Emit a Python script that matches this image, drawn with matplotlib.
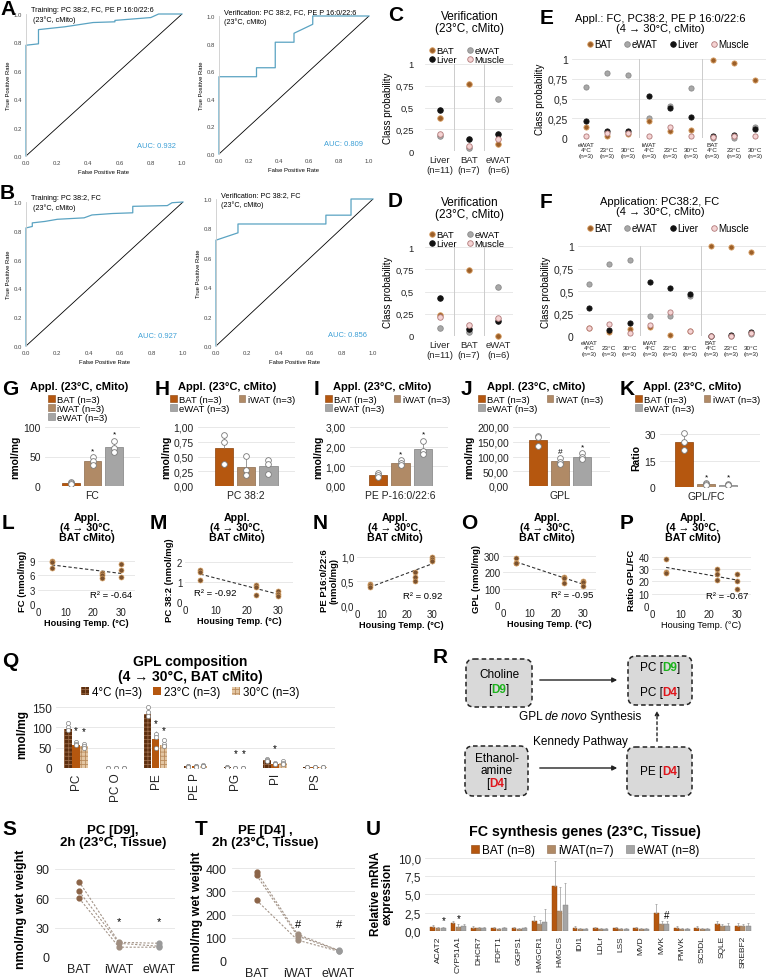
import numpy as np
import matplotlib
matplotlib.use("Agg")
from matplotlib import pyplot as plt
from matplotlib.patches import Patch, FancyBboxPatch
from matplotlib.lines import Line2D

plt.rcParams['font.family'] = ['Liberation Sans', 'DejaVu Sans']
plt.rcParams['hatch.linewidth'] = 0.6

# ---------------- data ----------------
# A / B: ROC curves
roc_ticklabels = ['0.0', '0.2', '0.4', '0.6', '0.8', '1.0']
roc_a_train_fpr = [0, 0, 0.08, 0.08, 0.25, 0.43, 0.57, 0.57, 0.80, 0.85, 1.0]
roc_a_train_tpr = [0, 0.78, 0.79, 0.89, 0.91, 0.94, 0.945, 0.955, 0.975, 1.0, 1.0]
roc_a_ver_fpr = [0, 0, 0.25, 0.25, 0.375, 0.375, 0.5, 0.5, 0.625, 0.625, 1.0]
roc_a_ver_tpr = [0, 0.56, 0.56, 0.625, 0.625, 0.81, 0.81, 0.875, 0.94, 1.0, 1.0]
roc_b_train_fpr = [0, 0, 0.04, 0.04, 0.12, 0.2, 0.37, 0.42, 0.55, 0.68, 0.68, 0.9, 0.93, 1.0]
roc_b_train_tpr = [0, 0.82, 0.83, 0.855, 0.865, 0.88, 0.89, 0.91, 0.92, 0.925, 0.97, 0.975, 0.995, 1.0]
roc_b_ver_fpr = [0, 0, 0.14, 0.14, 0.7, 0.7, 0.86, 0.86, 1.0]
roc_b_ver_tpr = [0, 0.72, 0.77, 0.83, 0.83, 0.89, 0.89, 1.0, 1.0]

# C / D: verification class probabilities
verif_labels = ['Liver\n(n=11)', 'BAT\n(n=7)', 'eWAT\n(n=6)']
c_bat = [0.38, 0.77, 0.08]
c_ewat = [0.17, 0.04, 0.60]
c_liver = [0.47, 0.14, 0.20]
c_muscle = [0.20, 0.06, 0.14]
d_bat = [0.24, 0.74, 0.0]
d_ewat = [0.09, 0.04, 0.55]
d_liver = [0.43, 0.08, 0.17]
d_muscle = [0.21, 0.12, 0.20]
prob_ticks = [0, 0.25, 0.5, 0.75, 1]
prob_ticklabels = ['0', '0,25', '0,5', '0,75', '1']

# E / F: application class probabilities
appl_labels = ['eWAT\n4°C\n(n=3)', '\n23°C\n(n=3)', '\n30°C\n(n=3)',
               'iWAT\n4°C\n(n=3)', '\n23°C\n(n=3)', '\n30°C\n(n=3)',
               'BAT\n4°C\n(n=3)', '\n23°C\n(n=3)', '\n30°C\n(n=3)']
e_bat = [0.135, 0.03, 0.05, 0.22, 0.093, 0.105, 0.99, 0.95, 0.73]
e_ewat = [0.64, 0.82, 0.80, 0.25, 0.41, 0.63, 0.0, 0.0, 0.135]
e_liver = [0.22, 0.085, 0.085, 0.53, 0.375, 0.266, 0.02, 0.04, 0.12]
e_muscle = [0.02, 0.063, 0.063, 0.02, 0.135, 0.02, 0.01, 0.02, 0.03]
f_bat = [0.09, 0.045, 0.08, 0.10, 0.01, 0.055, 1.00, 0.99, 0.93]
f_ewat = [0.58, 0.80, 0.84, 0.22, 0.22, 0.45, 0.0, 0.0, 0.02]
f_liver = [0.31, 0.07, 0.145, 0.60, 0.53, 0.47, 0.0, 0.01, 0.045]
f_muscle = [0.09, 0.13, 0.035, 0.12, 0.265, 0.055, 0.0, 0.0, 0.03]

# G - K: bar charts (BAT, iWAT, eWAT)
bar_labels = ['BAT (n=3)', 'iWAT (n=3)', 'eWAT (n=3)']
g_means = [5, 42, 66]
g_pts = [[7, 5, 4], [49, 42, 36], [77, 65, 58]]
h_means = [0.65, 0.32, 0.34]
h_pts = [[0.86, 0.74, 0.37], [0.51, 0.27, 0.18], [0.44, 0.37, 0.21]]
i_means = [0.55, 1.18, 1.88]
i_pts = [[0.65, 0.55, 0.48], [1.32, 1.15, 1.05], [2.30, 1.80, 1.62]]
j_means = [157, 84, 100]
j_pts = [[170, 166, 134], [95, 82, 76], [111, 98, 92]]
k_means = [25.6, 1.8, 1.4]
k_pts = [[30.5, 25.5, 21.0], [2.2, 1.8, 1.4], [1.8, 1.3, 1.0]]

# L - P: housing temperature scatter
housing_temp = [5, 5, 5, 23, 23, 23, 30, 30, 30]
l_fc = [9.0, 8.7, 7.5, 6.4, 6.0, 5.4, 8.3, 7.1, 5.7]
m_pc = [1.6, 1.5, 1.1, 0.85, 0.75, 0.35, 0.55, 0.4, 0.3]
n_pe = [0.45, 0.42, 0.38, 0.70, 0.60, 0.50, 0.99, 0.95, 0.92]
o_gpl = [290, 255, 255, 170, 165, 135, 150, 140, 115]
p_ratio = [38, 28, 27, 30, 26, 21, 26, 20, 14]
r2_labels = ['R² = -0.64', 'R² = -0.92', 'R² = 0.92', 'R² = -0.95', 'R² = -0.67']

# Q: GPL composition
q_classes = ['PC', 'PC O', 'PE', 'PE P', 'PG', 'PI', 'PS']
q_4c = [97, 1, 134, 4, 1.5, 19, 2]
q_23c = [57, 1, 72, 4, 1, 10, 2]
q_30c = [54, 1, 56, 6, 1, 12, 2]
q_pts_4c = [[110, 101, 94], [1, 1, 1], [150, 137, 128], [5, 4, 3], [2, 1.5, 1], [22, 19, 17], [3, 2, 2]]
q_pts_23c = [[64, 58, 56], [1, 1, 1], [85, 77, 50], [5, 4, 3], [1, 1, 1], [12, 10, 9], [3, 2, 2]]
q_pts_30c = [[60, 55, 50], [1, 1, 1], [68, 58, 55], [8, 6, 5], [1, 1, 1], [17, 12, 10], [3, 2, 2]]

# S / T: label incorporation, one line per mouse
tissues = ['BAT', 'iWAT', 'eWAT']
s_bat = [77, 67, 60]
s_iwat = [15, 14, 10]
s_ewat = [14, 11, 10]
t_bat = [385, 370, 262]
t_iwat = [115, 108, 90]
t_ewat = [46, 45, 42]

# U: FC synthesis genes
genes = ['ACAT2', 'CYP51A1', 'DHCR7', 'FDFT1', 'GGPS1', 'HMGCR1', 'HMGCS', 'IDI1',
         'LDLr', 'LSS', 'MVD', 'MVK', 'PMVK', 'SC5DL', 'SQLE', 'SREBF2']
u_bat = [0.6, 1.05, 0.45, 0.4, 0.4, 1.35, 6.2, 0.45, 0.4, 0.4, 0.4, 2.4, 0.45, 0.45, 0.9, 0.75]
u_iwat = [0.4, 0.6, 0.35, 0.3, 0.3, 1.0, 2.75, 0.3, 0.3, 0.3, 0.3, 0.95, 0.3, 0.3, 0.7, 0.7]
u_ewat = [0.4, 0.7, 0.35, 0.35, 0.35, 1.2, 3.6, 0.3, 0.3, 0.3, 0.3, 0.95, 0.3, 0.3, 0.75, 0.75]
u_err_bat = [0.2, 0.3, 0.2, 0.2, 0.2, 0.7, 3.3, 0.2, 0.2, 0.2, 0.2, 1.3, 0.2, 0.2, 0.4, 0.3]
u_err_iwat = [0.2, 0.3, 0.15, 0.15, 0.15, 0.5, 3.3, 0.15, 0.15, 0.15, 0.15, 0.4, 0.15, 0.15, 0.3, 0.3]
u_err_ewat = [0.2, 0.3, 0.15, 0.15, 0.15, 1.8, 3.0, 0.15, 0.15, 0.15, 0.15, 0.4, 0.15, 0.15, 0.3, 0.3]

# ---------------- styles ----------------
ROC_BLUE = '#5aa3c2'
AUC_BLUE = '#3c9fd6'
CLASS_STYLE = {'BAT': ('#9c5f28', '#d9a066'), 'eWAT': ('#a8a8a8', '#8a8a8a'),
               'Liver': ('#111111', '#111111'), 'Muscle': ('#f5d3d3', '#b07878')}
BAR_COLORS = ['#b5570f', '#b08a66', '#a5a5a5']
BAR_EDGES = ['#8a4008', '#8c6a4c', '#808080']
GRID = '#e4e4e4'
PT_BROWN = '#7a5230'
GREEN = '#1db31d'
RED = '#e0151b'

W, H = 766, 979
fig = plt.figure(figsize=(W / 100, H / 100), dpi=100)


def px_axes(x0, y0, x1, y1):
    return fig.add_axes([x0 / W, 1 - y1 / H, (x1 - x0) / W, (y1 - y0) / H])


def ftext(x, y, s, **kw):
    return fig.text(x / W, 1 - y / H, s, **kw)


def letter(x, y, s):
    ftext(x, y, s, fontsize=15, fontweight='bold', va='top', ha='left')


def clean(ax):
    for sp in ax.spines.values():
        sp.set_visible(False)
    ax.tick_params(length=0, colors='#222222')


# ---------------- A / B ----------------
def roc_panel(box, fpr, tpr, title, auc):
    ax = px_axes(*box)
    ax.plot([0, 1], [0, 1], color='black', lw=0.6)
    ax.plot(fpr, tpr, color=ROC_BLUE, lw=0.9, clip_on=False)
    ax.set_xlim(0, 1)
    ax.set_ylim(0, 1)
    ticks = [0, 0.2, 0.4, 0.6, 0.8, 1.0]
    ax.set_xticks(ticks)
    ax.set_yticks(ticks)
    ax.set_xticklabels(roc_ticklabels)
    ax.set_yticklabels(roc_ticklabels)
    clean(ax)
    ax.tick_params(labelsize=4.3, pad=3, colors='#444444')
    ax.spines['left'].set_visible(True)
    ax.spines['left'].set_color('#cccccc')
    ax.spines['left'].set_linewidth(0.6)
    ax.set_xlabel('False Positive Rate', fontsize=4.2, labelpad=3)
    ax.set_ylabel('True Positive Rate', fontsize=4.2, labelpad=2)
    ax.text(0.03, 1.055, title, transform=ax.transAxes, fontsize=5.2, va='top', linespacing=1.35)
    ax.text(0.96, 0.065, 'AUC: ' + auc, transform=ax.transAxes, fontsize=5.4, ha='right', color=AUC_BLUE)


roc_panel((26, 15, 182, 157), roc_a_train_fpr, roc_a_train_tpr,
          'Training: PC 38:2, FC, PE P 16:0/22:6\n (23°C, cMito)', '0.932')
roc_panel((219, 17, 369, 155), roc_a_ver_fpr, roc_a_ver_tpr,
          'Verification: PC 38:2, FC, PE P 16:0/22:6\n(23°C, cMito)', '0.809')
roc_panel((26, 203, 183, 347), roc_b_train_fpr, roc_b_train_tpr,
          'Training: PC 38:2, FC\n (23°C, cMito)', '0.927')
roc_panel((216, 200, 373, 347), roc_b_ver_fpr, roc_b_ver_tpr,
          'Verification: PC 38:2, FC\n(23°C, cMito)', '0.856')
letter(0, 0, 'A')
letter(0, 184, 'B')


# ---------------- C - F ----------------
def class_panel(box, probs, xlabels, seps, xlim, tick_fs, xl_fs, ms, tick_pad):
    ax = px_axes(*box)
    xs = np.arange(len(xlabels))
    for name in ['eWAT', 'BAT', 'Liver', 'Muscle']:
        fc, ec = CLASS_STYLE[name]
        ax.scatter(xs, probs[name], s=ms, facecolor=fc, edgecolor=ec, linewidth=0.6, zorder=3, clip_on=False)
    for t in prob_ticks:
        ax.axhline(t, color=GRID, lw=0.6, zorder=0)
    for s in seps:
        ax.axvline(s, color='#cccccc', lw=0.7, zorder=0)
    ax.set_xlim(*xlim)
    ax.set_ylim(0, 1)
    ax.set_yticks(prob_ticks)
    ax.set_yticklabels(prob_ticklabels)
    ax.set_xticks(xs)
    ax.set_xticklabels(xlabels, fontsize=xl_fs, linespacing=1.05)
    clean(ax)
    ax.tick_params(axis='y', labelsize=tick_fs, pad=tick_pad)
    ax.tick_params(axis='x', pad=3)
    ax.set_ylabel('Class probability', fontsize=7, labelpad=2)
    return ax


def class_legend(cx, cy, ncol, fs, colsp):
    order = ['BAT', 'Liver', 'eWAT', 'Muscle'] if ncol == 2 else ['BAT', 'eWAT', 'Liver', 'Muscle']
    handles = [Line2D([], [], ls='none', marker='o', ms=4, mfc=CLASS_STYLE[k][0],
                      mec=CLASS_STYLE[k][1], mew=0.6) for k in order]
    fig.legend(handles, order, loc='center', bbox_to_anchor=(cx / W, 1 - cy / H), ncol=ncol,
               frameon=False, fontsize=fs, handlelength=0.6, handletextpad=0.15,
               columnspacing=colsp, labelspacing=0.0, borderpad=0, borderaxespad=0)


c_probs = {'BAT': c_bat, 'eWAT': c_ewat, 'Liver': c_liver, 'Muscle': c_muscle}
d_probs = {'BAT': d_bat, 'eWAT': d_ewat, 'Liver': d_liver, 'Muscle': d_muscle}
e_probs = {'BAT': e_bat, 'eWAT': e_ewat, 'Liver': e_liver, 'Muscle': e_muscle}
f_probs = {'BAT': f_bat, 'eWAT': f_ewat, 'Liver': f_liver, 'Muscle': f_muscle}

class_panel((425, 65, 513, 152), c_probs, verif_labels, [0.5, 1.5], (-0.5, 2.5), 6.8, 6.8, 16, 8)
class_panel((425, 248, 513, 337), d_probs, verif_labels, [0.5, 1.5], (-0.5, 2.5), 6.8, 6.8, 16, 8)
class_panel((572, 60, 766, 139), e_probs, appl_labels, [2.5, 5.5], (-0.66, 8.53), 7.5, 4.6, 14, 3)
class_panel((578, 247, 766, 337), f_probs, appl_labels, [2.5, 5.5], (-0.54, 8.72), 7.5, 4.6, 14, 3)

ftext(470, 11, 'Verification\n(23°C, cMito)', fontsize=8.5, ha='center', va='top', linespacing=1.05)
ftext(470, 197, 'Verification\n(23°C, cMito)', fontsize=8.5, ha='center', va='top', linespacing=1.05)
ftext(660, 14, 'Appl.: FC, PC38:2, PE P 16:0/22:6\n(4 → 30°C, cMito)', fontsize=8, ha='center', va='top', linespacing=1.05)
ftext(660, 197, 'Application: PC38:2, FC\n(4 → 30°C, cMito)', fontsize=8, ha='center', va='top', linespacing=1.05)
class_legend(467, 56, 2, 6.8, 1.1)
class_legend(467, 240, 2, 6.8, 1.1)
class_legend(668, 45, 4, 7, 1.3)
class_legend(668, 229, 4, 7, 1.3)
letter(388, 6, 'C')
letter(388, 192, 'D')
letter(540, 9, 'E')
letter(540, 193, 'F')


# ---------------- G - K ----------------
def bar_panel(box, means, pts, marks, ylim, yticks, yticklabels, xlim, xlabel, ylabel):
    ax = px_axes(*box)
    xs = np.arange(3)
    errs = [np.std(p, ddof=1) for p in pts]
    ax.bar(xs, means, width=0.82, color=BAR_COLORS, edgecolor=BAR_EDGES, lw=0.5, zorder=2)
    ax.errorbar(xs, means, yerr=[np.zeros(3), errs], fmt='none', ecolor='#8a8a8a', elinewidth=0.6, zorder=3)
    for x, p in zip(xs, pts):
        ax.scatter(np.full(len(p), x), p, s=17, facecolor='white', edgecolor='#7a7a7a', lw=0.6, zorder=4)
    for x, m, p in zip(xs, marks, pts):
        if m:
            ax.text(x, max(p) + 0.05 * ylim[1], m, ha='center', va='bottom', fontsize=6, zorder=5)
    for t in yticks:
        ax.axhline(t, color=GRID, lw=0.6, zorder=0)
    ax.set_xlim(*xlim)
    ax.set_ylim(*ylim)
    ax.set_yticks(yticks)
    ax.set_yticklabels(yticklabels)
    ax.set_xticks([1])
    ax.set_xticklabels([xlabel])
    clean(ax)
    ax.tick_params(labelsize=7.5, pad=3)
    ax.set_ylabel(ylabel, fontsize=7.5, fontweight='bold', labelpad=2)


def bar_legend(x, y, ncol):
    handles = [Patch(facecolor=c, edgecolor=e, lw=0.4) for c, e in zip(BAR_COLORS, BAR_EDGES)]
    order = [0, 1, 2] if ncol == 1 else [0, 2, 1]
    fig.legend([handles[i] for i in order], [bar_labels[i] for i in order], loc='upper left',
               bbox_to_anchor=(x / W, 1 - y / H), ncol=ncol, frameon=False, fontsize=6.8,
               handlelength=0.7, handleheight=0.7, handletextpad=0.25, columnspacing=1.0,
               labelspacing=0.0, borderpad=0, borderaxespad=0)


bar_panel((45, 428, 140, 487), g_means, g_pts, ['', '*', '*'], (0, 100), [0, 50, 100],
          ['0', '50', '100'], (-1.2, 3.2), 'FC', 'nmol/mg')
bar_panel((198, 428, 295, 487), h_means, h_pts, ['', '', ''], (0, 1.0), [0, 0.25, 0.5, 0.75, 1.0],
          ['0,00', '0,25', '0,50', '0,75', '1,00'], (-1.18, 3.2), 'PC 38:2', 'nmol/mg')
bar_panel((350, 428, 448, 487), i_means, i_pts, ['', '*', '*'], (0, 3.0), [0, 1, 2, 3],
          ['0,00', '1,00', '2,00', '3,00'], (-1.24, 3.1), 'PE P-16:0/22:6', 'nmol/mg')
bar_panel((513, 428, 610, 487), j_means, j_pts, ['', '#', '*'], (0, 200), [0, 50, 100, 150, 200],
          ['0,00', '50,00', '100,00', '150,00', '200,00'], (-1.14, 3.27), 'GPL', 'nmol/mg')
bar_panel((660, 428, 760, 488), k_means, k_pts, ['', '*', '*'], (0, 34), [0, 15, 30],
          ['0', '15', '30'], (-1.1, 3.45), 'GPL/FC', 'Ratio')

for lx, tx, s in [(2, 30, 'G'), (155, 178, 'H'), (314, 333, 'I'), (461, 487, 'J'), (620, 643, 'K')]:
    letter(lx, 380, s)
    ftext(tx, 382, 'Appl. (23°C, cMito)', fontsize=8, fontweight='bold', va='top')
bar_legend(48, 396, 1)
bar_legend(170, 396, 2)
bar_legend(325, 396, 2)
bar_legend(478, 396, 2)
bar_legend(635, 396, 2)


# ---------------- L - P ----------------
def temp_panel(box, vals, ylim, yticks, yticklabels, ylabel, r2, r2_left, xbold=True):
    ax = px_axes(*box)
    coef = np.polyfit(housing_temp, vals, 1)
    xs = np.array([min(housing_temp), max(housing_temp)])
    ax.plot(xs, np.polyval(coef, xs), ls=(0, (3, 2)), color='#333333', lw=0.8, zorder=2)
    ax.scatter(housing_temp, vals, s=13, facecolor=PT_BROWN, edgecolor='#d6a062', lw=0.5, zorder=3)
    for t in yticks:
        ax.axhline(t, color=GRID, lw=0.6, zorder=0)
    ax.set_xlim(0, 35)
    ax.set_ylim(*ylim)
    ax.set_xticks([0, 10, 20, 30])
    ax.set_yticks(yticks)
    ax.set_yticklabels(yticklabels)
    clean(ax)
    ax.tick_params(labelsize=7, pad=2)
    ax.set_xlabel('Housing Temp. (°C)', fontsize=6.6, fontweight='bold' if xbold else 'normal', labelpad=1)
    ax.set_ylabel(ylabel, fontsize=6.8, fontweight='bold', labelpad=2, linespacing=0.95)
    if r2_left:
        ax.text(0.08, 0.2, r2, transform=ax.transAxes, fontsize=6.8, ha='left', va='center')
    else:
        ax.text(0.97, 0.2, r2, transform=ax.transAxes, fontsize=6.8, ha='right', va='center')


temp_panel((38, 557, 135, 605), l_fc, (0, 10), [0, 3, 6, 9], ['0', '3', '6', '9'],
           'FC (nmol/mg)', r2_labels[0], False)
temp_panel((185, 557, 293, 603), m_pc, (0, 2.3), [0, 1, 2], ['0', '1', '2'],
           'PC 38:2 (nmol/mg)', r2_labels[1], True)
temp_panel((357, 555, 445, 607), n_pe, (0, 1.06), [0, 0.5, 1.0], ['0,0', '0,5', '1,0'],
           'PE P16:0/22:6\n(nmol/mg)', r2_labels[2], False)
temp_panel((503, 553, 596, 606), o_gpl, (0, 325), [0, 100, 200, 300], ['0', '100', '200', '300'],
           'GPL (nmol/mg)', r2_labels[3], False)
temp_panel((652, 553, 751, 607), p_ratio, (0, 44), [0, 10, 20, 30, 40], ['0', '10', '20', '30', '40'],
           'Ratio GPL/FC', r2_labels[4], False, xbold=False)
for lx, cx, s in [(2, 87, 'L'), (150, 237, 'M'), (313, 395, 'N'), (461, 547, 'O'), (620, 693, 'P')]:
    letter(lx, 514, s)
    ftext(cx, 513, 'Appl.\n(4 → 30°C,\nBAT cMito)', fontsize=7.7, fontweight='bold', ha='center',
          va='top', linespacing=0.98)


# ---------------- Q ----------------
axq = px_axes(56, 700, 335, 769)
xq = np.arange(len(q_classes))
wq = 0.2
q_series = [(q_4c, q_pts_4c, '#5c2e0e', '#9a6a48', '++++'),
            (q_23c, q_pts_23c, '#b5570f', '#b5570f', None),
            (q_30c, q_pts_30c, '#e3c6a3', '#b88a5c', '++++')]
q_handles = []
for i, (vals, pts, fc, hc, hatch) in enumerate(q_series):
    pos = xq + (i - 1) * wq
    axq.bar(pos, vals, wq * 0.95, color=fc, edgecolor=hc, lw=0, hatch=hatch, zorder=2)
    errs = [np.std(p, ddof=1) for p in pts]
    axq.errorbar(pos, vals, yerr=[np.zeros(len(vals)), errs], fmt='none', ecolor='#8a8a8a',
                 elinewidth=0.5, zorder=3)
    for x, p in zip(pos, pts):
        axq.scatter(np.full(len(p), x), p, s=9, facecolor='white', edgecolor='#808080', lw=0.5, zorder=4)
    q_handles.append(Patch(facecolor=fc, edgecolor=hc, lw=0, hatch=hatch))
# significance marks (23°C and 30°C vs 4°C)
for ci, si, y in [(0, 1, 80), (0, 2, 78), (2, 1, 98), (2, 2, 80), (4, 1, 24), (4, 2, 24), (5, 1, 36)]:
    axq.text(xq[ci] + (si - 1) * wq, y, '*', ha='center', va='bottom', fontsize=7)
for t in [0, 50, 100, 150]:
    axq.axhline(t, color=GRID, lw=0.6, zorder=0)
axq.set_xlim(-0.5, 6.5)
axq.set_ylim(0, 170)
axq.set_yticks([0, 50, 100, 150])
axq.set_xticks(xq)
axq.set_xticklabels(q_classes, rotation=90)
clean(axq)
axq.tick_params(labelsize=8.5, pad=3)
axq.set_ylabel('nmol/mg', fontsize=8.5, fontweight='bold', labelpad=3)
fig.legend(q_handles, ['4°C (n=3)', '23°C (n=3)', '30°C (n=3)'], loc='center',
           bbox_to_anchor=(190 / W, 1 - 693 / H), ncol=3, frameon=False, fontsize=8.3,
           handlelength=0.7, handleheight=0.7, handletextpad=0.25, columnspacing=1.0,
           borderpad=0, borderaxespad=0)
letter(2, 652, 'Q')
ftext(190, 655, 'GPL composition\n(4 → 30°C, BAT cMito)', fontsize=10, fontweight='bold',
      ha='center', va='top', linespacing=1.05)


# ---------------- R: pathway scheme ----------------
axr = px_axes(380, 640, 766, 815)
axr.set_xlim(380, 766)
axr.set_ylim(815, 640)
axr.axis('off')
renderer = fig.canvas.get_renderer()


def rbox(x0, y0, x1, y1):
    axr.add_patch(FancyBboxPatch((x0, y0), x1 - x0, y1 - y0, boxstyle='round,pad=0,rounding_size=8',
                                 facecolor='#d9d9d9', edgecolor='#222222', lw=1.1, ls=(0, (3, 2))))


def rich(x, y, pieces, fs=8.5):
    texts, widths = [], []
    for s, color, weight, style in pieces:
        t = axr.text(0, y, s, fontsize=fs, color=color, fontweight=weight, fontstyle=style,
                     ha='left', va='center')
        widths.append(t.get_window_extent(renderer).width)
        texts.append(t)
    start = x - sum(widths) / 2
    for t, w in zip(texts, widths):
        t.set_x(start)
        start += w


def tag(prefix, code, color):
    return [(prefix + '[', 'black', 'normal', 'normal'), (code, color, 'bold', 'normal'),
            (']', 'black', 'normal', 'normal')]


rbox(466, 660, 532, 708)
rbox(628, 657, 692, 706)
rbox(465, 747, 528, 797)
rbox(627, 748, 692, 797)
rich(499, 675, [('Choline', 'black', 'normal', 'normal')])
rich(499, 690, tag('', 'D9', GREEN))
rich(660, 668, tag('PC ', 'D9', GREEN))
rich(660, 693, tag('PC ', 'D4', RED))
rich(497, 759, [('Ethanol-', 'black', 'normal', 'normal')])
rich(497, 771, [('amine', 'black', 'normal', 'normal')])
rich(497, 784, tag('', 'D4', RED))
rich(660, 772, tag('PE ', 'D4', RED))
rich(580, 717, [('GPL ', 'black', 'normal', 'normal'), ('de novo', 'black', 'normal', 'italic'),
                (' Synthesis', 'black', 'normal', 'normal')])
rich(580, 742, [('Kennedy Pathway', 'black', 'normal', 'normal')])
arrow = dict(arrowstyle='-|>', color='#222222', lw=1.0, mutation_scale=7)
axr.annotate('', xy=(620, 681), xytext=(537, 681), arrowprops=arrow)
axr.annotate('', xy=(620, 769), xytext=(537, 769), arrowprops=arrow)
axr.annotate('', xy=(657, 709), xytext=(657, 745),
             arrowprops=dict(arrowstyle='-|>', color='#222222', lw=1.0, mutation_scale=6, ls=(0, (2, 2))))
letter(433, 648, 'R')


# ---------------- S / T ----------------
def pair_panel(box, series, ylim, yticks, marks, mark_y, ylabel_pad):
    ax = px_axes(*box)
    xs = np.arange(3)
    for mouse in zip(*series):
        ax.plot(xs, mouse, ls=(0, (2, 1.5)), color='#a39488', lw=0.8, zorder=2)
    for x, vals, c in zip(xs, series, ['#8b6448', '#a08e80', '#9a9a9a']):
        ax.scatter(np.full(len(vals), x), vals, s=12, color=c, zorder=3)
    for x, m in zip(xs, marks):
        if m:
            ax.text(x, mark_y, m, ha='center', va='center', fontsize=8)
    for t in yticks:
        ax.axhline(t, color=GRID, lw=0.6, zorder=0)
    ax.set_xlim(-0.6, 2.4)
    ax.set_ylim(*ylim)
    ax.set_yticks(yticks)
    ax.set_xticks(xs)
    ax.set_xticklabels(tissues)
    clean(ax)
    ax.tick_params(labelsize=9, pad=4)
    ax.set_ylabel('nmol/mg wet weight', fontsize=9, fontweight='bold', labelpad=ylabel_pad)


pair_panel((55, 860, 175, 958), [s_bat, s_iwat, s_ewat], (0, 100), [0, 30, 60, 90], ['', '*', '*'], 37, 6)
pair_panel((232, 860, 355, 962), [t_bat, t_iwat, t_ewat], (0, 440), [0, 100, 200, 300, 400],
           ['', '#', '#'], 160, 2)
letter(2, 820, 'S')
letter(195, 820, 'T')
ftext(113, 825, 'PC [D9],\n2h (23°C, Tissue)', fontsize=9.5, fontweight='bold', ha='center', va='top',
      linespacing=1.05)
ftext(265, 825, 'PE [D4] ,\n2h (23°C, Tissue)', fontsize=9.5, fontweight='bold', ha='center', va='top',
      linespacing=1.05)


# ---------------- U ----------------
axu = px_axes(425, 855, 755, 932)
xu = np.arange(len(genes))
wu = 0.26
u_series = [(u_bat, u_err_bat), (u_iwat, u_err_iwat), (u_ewat, u_err_ewat)]
u_handles = []
for i, (vals, errs) in enumerate(u_series):
    pos = xu + (i - 1) * wu
    axu.bar(pos, vals, wu * 0.92, color=BAR_COLORS[i], edgecolor=BAR_EDGES[i], lw=0.3, zorder=2)
    axu.errorbar(pos, vals, yerr=[np.zeros(len(vals)), errs], fmt='none', ecolor='#9a9a9a',
                 elinewidth=0.5, capsize=1, capthick=0.5, zorder=3)
    u_handles.append(Patch(facecolor=BAR_COLORS[i], edgecolor=BAR_EDGES[i], lw=0.4))
for gi, si, m in [(0, 2, '*'), (1, 1, '*'), (11, 2, '#')]:
    axu.text(xu[gi] + (si - 1) * wu, u_series[si][0][gi] + u_series[si][1][gi] + 0.2, m,
             ha='center', va='bottom', fontsize=7)
for t in [0, 2.5, 5, 7.5, 10]:
    axu.axhline(t, color=GRID, lw=0.6, zorder=0)
axu.set_xlim(-0.64, 15.6)
axu.set_ylim(0, 10.5)
axu.set_yticks([0, 2.5, 5, 7.5, 10])
axu.set_yticklabels(['0,0', '2,5', '5,0', '7,5', '10,0'])
axu.set_xticks(xu)
axu.set_xticklabels(genes, rotation=90)
clean(axu)
axu.tick_params(axis='y', labelsize=8.5, pad=3)
axu.tick_params(axis='x', labelsize=6, pad=3)
axu.set_ylabel('Relative mRNA\nexpression', fontsize=8.5, fontweight='bold', labelpad=3, linespacing=1.0)
fig.legend(u_handles, ['BAT (n=8)', 'iWAT(n=7)', 'eWAT (n=8)'], loc='center',
           bbox_to_anchor=(585 / W, 1 - 851 / H), ncol=3, frameon=False, fontsize=8.5,
           handlelength=0.7, handleheight=0.7, handletextpad=0.25, columnspacing=1.0,
           borderpad=0, borderaxespad=0)
letter(366, 820, 'U')
ftext(585, 825, 'FC synthesis genes (23°C, Tissue)', fontsize=10.3, fontweight='bold', ha='center', va='top')

fig.savefig('out.png', dpi=100)
